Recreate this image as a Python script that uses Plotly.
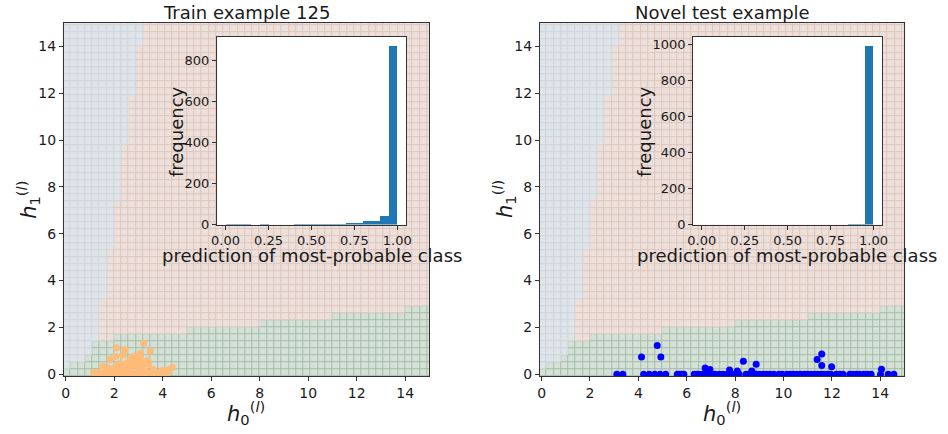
import numpy as np
import plotly.graph_objects as go

# ---------------------------------------------------------------------------
# Decision regions of the classifier on the (h0, h1) plane
# grid of square cells, origin -0.1, step 0.3
grid_origin = -0.1
grid_step = 0.3
grid_cells = 51

# class 2 (bottom band): top edge of the band for each x-segment
band_x_breaks = [0.2, 0.8, 1.1, 2.0, 5.0, 8.0, 11.0, 14.0]
band_tops = [0.2, 0.5, 0.8, 1.4, 1.7, 2.0, 2.3, 2.6, 2.9]
# class 0 (left wedge): right edge of the wedge for each y-segment
wedge_y_breaks = [3.2, 5.3, 7.4, 9.8, 11.9, 14.0]
wedge_rights = [1.4, 1.7, 2.0, 2.3, 2.6, 2.9, 3.2]

# ---------------------------------------------------------------------------
# Hidden activations of the points
train_x = [2.10, 2.45, 3.22, 3.49, 2.07, 2.36, 2.80, 3.08, 3.08, 2.93, 2.70, 1.83,
           3.38, 2.58, 2.35, 2.30, 3.42, 2.93, 1.53, 1.78, 2.50, 3.17, 3.62, 4.40,
           4.26, 3.99, 1.16, 1.30, 2.20, 2.62, 2.85, 3.00, 2.45, 2.15, 1.95, 3.30,
           2.75, 3.12, 2.05, 1.65, 3.90, 4.10,
           1.45, 1.55, 1.62, 1.70, 1.80, 1.90, 1.97, 2.05, 2.15, 2.25, 2.33, 2.42,
           2.50, 2.60, 2.68, 2.77, 2.85, 2.95, 3.05, 3.12, 3.20, 3.30, 3.38, 3.62,
           3.70, 3.80, 3.90, 3.98, 4.08, 4.18]
train_y = [1.13, 1.05, 1.33, 1.00, 0.76, 0.81, 0.77, 0.90, 0.70, 0.66, 0.66, 0.63,
           0.60, 0.53, 0.43, 0.35, 0.43, 0.46, 0.34, 0.27, 0.32, 0.35, 0.21, 0.29,
           0.20, 0.16, 0.08, 0.08, 0.45, 0.20, 0.55, 0.25, 0.15, 0.20, 0.10, 0.15,
           0.40, 0.50, 0.30, 0.12, 0.08, 0.10,
           0.04, 0.03, 0.05, 0.02, 0.04, 0.03, 0.05, 0.02, 0.04, 0.03, 0.05, 0.02,
           0.04, 0.03, 0.05, 0.02, 0.04, 0.03, 0.05, 0.02, 0.04, 0.03, 0.05, 0.02,
           0.04, 0.03, 0.05, 0.02, 0.04, 0.03]

test_x = [4.13, 4.78, 4.93, 6.76, 6.96, 7.77, 8.09, 8.34, 8.69, 8.87, 11.39, 11.58,
          11.58, 11.99, 14.05,
          3.11, 3.36, 4.22, 4.45, 4.68, 4.90, 5.13, 5.61, 5.70, 5.79, 5.88, 6.31,
          6.42, 6.50, 6.66, 6.82, 6.96, 7.05, 7.16, 7.34, 7.50, 7.67, 7.91, 8.00,
          8.05, 8.16, 8.45, 8.56, 8.70, 8.80, 8.86, 9.00, 9.16, 9.29, 9.43, 9.60,
          9.81, 9.95, 10.15, 10.29, 10.42, 10.56, 10.70, 10.87, 11.01, 11.14,
          11.28, 11.41, 11.55, 11.68, 11.82, 11.96, 12.19, 12.33, 12.46, 12.74,
          12.87, 13.01, 13.14, 13.32, 13.48, 13.62, 14.01, 14.33, 14.56]
test_y = [0.74, 1.23, 0.74, 0.27, 0.20, 0.18, 0.14, 0.56, 0.14, 0.43, 0.63, 0.87,
          0.38, 0.32, 0.22,
          0.0, 0.0, 0.0, 0.0, 0.0, 0.0, 0.0, 0.0, 0.0, 0.0, 0.0, 0.0,
          0.0, 0.0, 0.0, 0.0, 0.0, 0.0, 0.0, 0.0, 0.0, 0.0, 0.0, 0.0,
          0.0, 0.0, 0.0, 0.0, 0.0, 0.0, 0.0, 0.0, 0.0, 0.0, 0.0, 0.0,
          0.0, 0.0, 0.0, 0.0, 0.0, 0.0, 0.0, 0.0, 0.0, 0.0,
          0.0, 0.0, 0.0, 0.0, 0.0, 0.0, 0.0, 0.0, 0.0, 0.0,
          0.0, 0.0, 0.0, 0.0, 0.0, 0.0, 0.0, 0.0, 0.0]

# ---------------------------------------------------------------------------
# Histograms of the most-probable-class prediction, 20 bins on [0, 1]
hist_bins = 20
train_counts = [3, 3, 3, 0, 3, 0, 0, 0, 2, 2, 2, 2, 2, 2, 8, 8, 20, 20, 43, 872]
test_counts = [0, 0, 0, 0, 0, 0, 0, 0, 0, 0, 0, 0, 0, 0, 0, 0, 0, 2, 2, 996]
hist_ticks = [0.0, 0.25, 0.5, 0.75, 1.0]
hist_ticklabels = ["0.00", "0.25", "0.50", "0.75", "1.00"]

titles = ["Train example 125", "Novel test example"]

# ---------------------------------------------------------------------------
FONT = "DejaVu Sans"
TXT = "#1a1a1a"
FILL = ["#dfe4e8", "#ede0db", "#d5e0d6"]
EDGE = ["#cdd5dc", "#dcc5bf", "#a6bdab"]
TRAIN_COLOR = "#ffbb78"
TEST_COLOR = "#0000ff"
BAR_COLOR = "#1f77b4"

centers = grid_origin + grid_step * (np.arange(grid_cells) + 0.5)
xx, yy = np.meshgrid(centers, centers)
band_top = np.array(band_tops)[np.searchsorted(band_x_breaks, xx, side="right")]
wedge_right = np.array(wedge_rights)[np.searchsorted(wedge_y_breaks, yy, side="right")]
regions = np.where(yy < band_top, 2, np.where(xx < wedge_right, 0, 1))


def discrete_scale(cols):
    return [[0.0, cols[0]], [0.25, cols[0]], [0.25, cols[1]], [0.75, cols[1]],
            [0.75, cols[2]], [1.0, cols[2]]]


fig = go.Figure()

hist_edges = np.linspace(0, 1, hist_bins + 1)
hist_centers = (hist_edges[:-1] + hist_edges[1:]) / 2
hist_width = hist_edges[1] - hist_edges[0]
hist_xrange = [-0.05, 1.05]

panels = [
    dict(ax="", pts=(train_x, train_y, TRAIN_COLOR), counts=train_counts, inset="3"),
    dict(ax="2", pts=(test_x, test_y, TEST_COLOR), counts=test_counts, inset="4"),
]

for p in panels:
    xa, ya = "x" + p["ax"], "y" + p["ax"]
    # cell edges (darker) underneath, cell fills on top with 1px gaps
    fig.add_trace(go.Heatmap(x=centers, y=centers, z=regions, zmin=0, zmax=2,
                             colorscale=discrete_scale(EDGE), showscale=False,
                             hoverinfo="skip", xaxis=xa, yaxis=ya))
    fig.add_trace(go.Heatmap(x=centers, y=centers, z=regions, zmin=0, zmax=2,
                             colorscale=discrete_scale(FILL), showscale=False,
                             xgap=1, ygap=1, hoverinfo="skip", xaxis=xa, yaxis=ya))
    px, py, pc = p["pts"]
    fig.add_trace(go.Scatter(x=px, y=py, mode="markers",
                             marker=dict(color=pc, size=7, line=dict(width=0)),
                             showlegend=False, xaxis=xa, yaxis=ya))

for p in panels:
    xa, ya = "x" + p["inset"], "y" + p["inset"]
    ytop = 1.05 * max(p["counts"])
    # white face of the inset axes (a single-cell heatmap sits under the bars)
    fig.add_trace(go.Heatmap(x=hist_xrange, y=[0, ytop], z=[[0]],
                             colorscale=[[0, "white"], [1, "white"]],
                             showscale=False, hoverinfo="skip", xaxis=xa, yaxis=ya))
    fig.add_trace(go.Bar(x=hist_centers, y=p["counts"], width=hist_width,
                         marker=dict(color=BAR_COLOR, line=dict(width=0)),
                         showlegend=False, xaxis=xa, yaxis=ya))

tickfont = dict(family=FONT, size=14, color=TXT)
inset_tickfont = dict(family=FONT, size=13, color=TXT)
main_common = dict(range=[-0.07, 15.0], tickvals=list(range(0, 15, 2)),
                   ticks="outside", ticklen=4, tickwidth=1, tickcolor="#333",
                   showline=True, linecolor="#333", linewidth=1, mirror=True,
                   showgrid=False, zeroline=False, tickfont=tickfont)
inset_common = dict(ticks="outside", ticklen=4, tickwidth=1, tickcolor="#333",
                    showline=True, linecolor="#333", linewidth=1, mirror=True,
                    showgrid=False, zeroline=False, tickfont=inset_tickfont)

main_y = [0.1175, 0.9463]
inset_y = [0.473, 0.914]

fig.update_layout(
    width=948, height=434, margin=dict(l=0, r=0, t=0, b=0),
    paper_bgcolor="white", plot_bgcolor="white", showlegend=False,
    barmode="overlay", bargap=0,
    xaxis=dict(domain=[0.0619, 0.4524], anchor="y", **main_common),
    yaxis=dict(domain=main_y, anchor="x", **main_common),
    xaxis2=dict(domain=[0.5704, 0.9599], anchor="y2", **main_common),
    yaxis2=dict(domain=main_y, anchor="x2", **main_common),
    xaxis3=dict(domain=[0.2254, 0.4272], anchor="y3", range=hist_xrange,
                tickvals=hist_ticks, ticktext=hist_ticklabels, **inset_common),
    yaxis3=dict(domain=inset_y, anchor="x3", range=[0, 1.05 * max(train_counts)],
                tickvals=[0, 200, 400, 600, 800], **inset_common),
    xaxis4=dict(domain=[0.7342, 0.936], anchor="y4", range=hist_xrange,
                tickvals=hist_ticks, ticktext=hist_ticklabels, **inset_common),
    yaxis4=dict(domain=inset_y, anchor="x4", range=[0, 1.05 * max(test_counts)],
                tickvals=[0, 200, 400, 600, 800, 1000], **inset_common),
)

big = dict(family=FONT, size=18, color=TXT)
lab = dict(family=FONT, size=21, color=TXT)
h0 = "<i>h</i><sub>0</sub><sup>(<i>l</i>)</sup>"
h1 = "<i>h</i><sub>1</sub><sup>(<i>l</i>)</sup>"
ann = []
for cx, t in zip([0.2572, 0.7652], titles):
    ann.append(dict(text=t, x=cx, y=0.9707, font=big))
for cx in [0.2563, 0.765]:
    ann.append(dict(text=h0, x=cx, y=0.03, font=lab))
for cx in [0.024, 0.5327]:
    ann.append(dict(text=h1, x=cx, y=0.532, font=lab, textangle=-90))
for cx in [0.1822, 0.6822]:
    ann.append(dict(text="frequency", x=cx, y=0.6912, font=big, textangle=-90))
for cx in [0.3264, 0.8347]:
    ann.append(dict(text="prediction of most-probable class", x=cx, y=0.401, font=big))
for a in ann:
    a.update(xref="paper", yref="paper", showarrow=False,
             xanchor="center", yanchor="middle")
fig.update_layout(annotations=ann)

fig.write_html("out.html")
